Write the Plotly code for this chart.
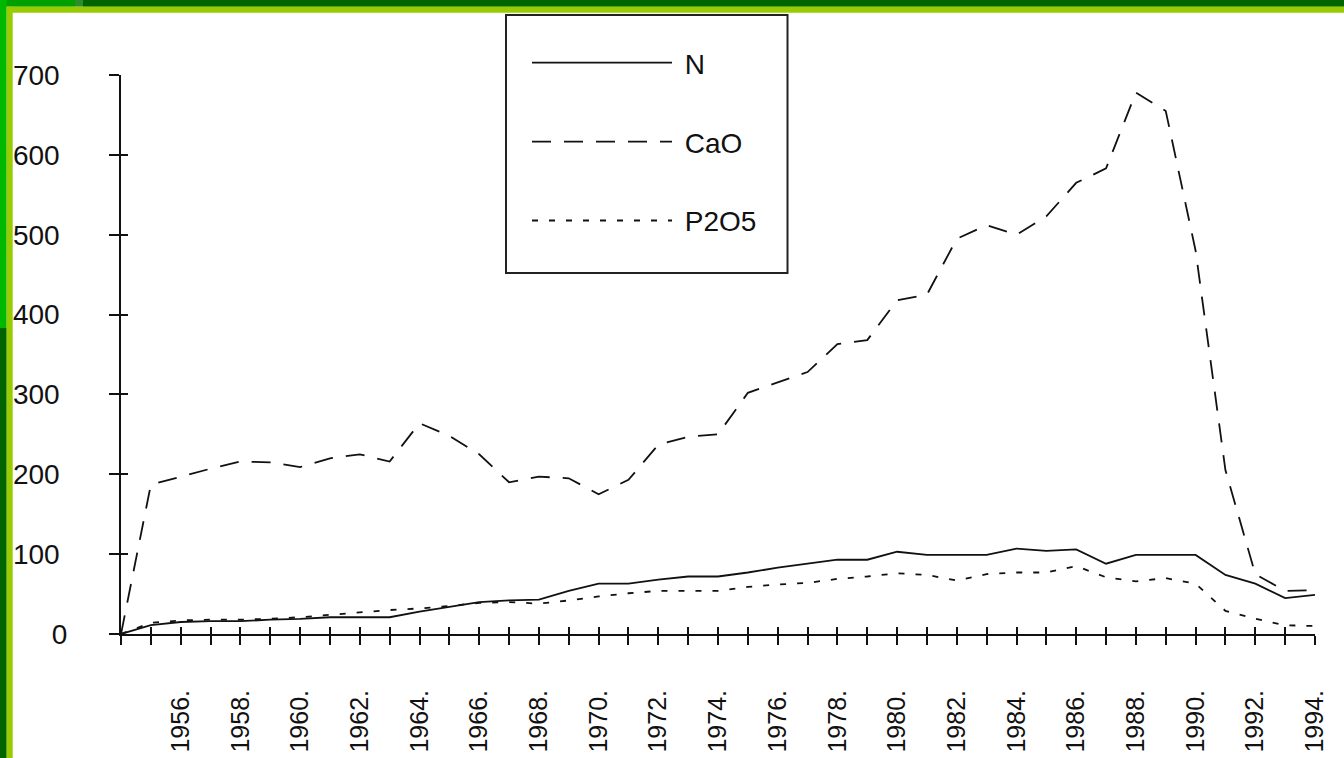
import plotly.graph_objects as go

# ---------------- data ----------------
years = list(range(1954, 1995))

n_values = [0, 11, 15, 16, 16, 18, 19, 21, 21, 21,
            28, 34, 40, 42, 43, 54, 63, 63, 68, 72,
            72, 77, 83, 88, 93, 93, 103, 99, 99, 99,
            107, 104, 106, 88, 99, 99, 99, 74, 63, 45, 49]

cao_values = [0, 187, 197, 207, 216, 215, 209, 220, 225, 216,
              264, 248, 225, 190, 197, 195, 175, 193, 237, 247,
              250, 302, 315, 328, 363, 368, 418, 425, 495, 512,
              500, 523, 565, 583, 678, 655, 480, 205, 75, 54, 55]

p2o5_values = [0, 14, 17, 18, 18, 19, 21, 24, 27, 30,
               32, 35, 39, 40, 38, 42, 47, 51, 54, 54,
               54, 59, 62, 64, 69, 72, 76, 74, 67, 75,
               77, 77, 85, 71, 66, 70, 63, 29, 19, 11, 10]

series_names = ["N", "CaO", "P2O5"]

x_tick_labels = ["", "", "1956.", "", "1958.", "", "1960.", "", "1962.", "",
                 "1964.", "", "1966.", "", "1968.", "", "1970.", "", "1972.", "",
                 "1974.", "", "1976.", "", "1978.", "", "1980.", "", "1982.", "",
                 "1984.", "", "1986.", "", "1988.", "", "1990.", "", "1992.", "",
                 "1994."]

y_tick_vals = [0, 100, 200, 300, 400, 500, 600, 700]
y_tick_labels = ["0", "100\u00a0", "200\u00a0", "300\u00a0", "400\u00a0",
                 "500\u00a0", "600\u00a0", "700\u00a0"]

# ---------------- layout geometry ----------------
W, H = 1344, 758
ML, MR, MT, MB = 121, 29, 75, 124
PW, PH = W - ML - MR, H - MT - MB

FONT = "Liberation Sans, Arial, sans-serif"
INK = "#111111"


def px_x(px):
    return (px - ML) / PW


def px_y(py):
    return (H - MB - py) / PH


fig = go.Figure()

styles = ["solid", "19px,13px", "6px,11px"]
axes_refs = [("x", "y"), ("x", "y"), ("x2", "y2")]
for name, vals, dash, grp, (xa, ya) in zip(series_names,
                                           [n_values, cao_values, p2o5_values],
                                           styles, ["g1", "g2", "g3"], axes_refs):
    fig.add_trace(go.Scatter(
        x=years, y=vals, mode="lines", name="\u00a0" + name, legendgroup=grp,
        xaxis=xa, yaxis=ya,
        line=dict(color=INK, width=1.8, dash=dash),
        hoverinfo="skip",
    ))

axis_common = dict(showgrid=False, zeroline=False)

fig.update_layout(
    width=W, height=H,
    margin=dict(l=ML, r=MR, t=MT, b=MB, pad=0, autoexpand=False),
    paper_bgcolor="white", plot_bgcolor="white",
    font=dict(family=FONT, size=28, color=INK),
    showlegend=True,
    xaxis=dict(
        range=[1954, 1994], tickmode="array", tickvals=years, ticktext=x_tick_labels,
        ticks="outside", ticklen=9, tickwidth=2, tickcolor=INK,
        showline=True, linecolor=INK, linewidth=2,
        tickangle=-90, tickfont=dict(family=FONT, size=25, color=INK),
        ticklabelstandoff=35, **axis_common,
    ),
    xaxis2=dict(
        range=[1954, 1994], overlaying="x", anchor="y", tickmode="array",
        tickvals=years, ticks="inside", ticklen=7, tickwidth=2, tickcolor=INK,
        showticklabels=False, showline=False, **axis_common,
    ),
    yaxis=dict(
        range=[0, 700], tickmode="array", tickvals=y_tick_vals, ticktext=y_tick_labels,
        ticks="outside", ticklen=10, tickwidth=2, tickcolor=INK,
        showline=True, linecolor=INK, linewidth=2,
        tickfont=dict(family=FONT, size=28, color=INK),
        ticklabelstandoff=36, **axis_common,
    ),
    yaxis2=dict(
        range=[0, 700], overlaying="y", anchor="x", side="left", tickmode="array",
        tickvals=y_tick_vals, ticks="inside", ticklen=7, tickwidth=2, tickcolor=INK,
        showticklabels=False, showline=False, **axis_common,
    ),
    legend=dict(
        xref="container", yref="container",
        x=527 / W, y=1 - 38 / H, xanchor="left", yanchor="top",
        font=dict(family=FONT, size=28, color=INK),
        bgcolor="rgba(0,0,0,0)", borderwidth=0,
        itemwidth=140, traceorder="grouped", tracegroupgap=39.5,
    ),
)

# legend frame
shapes = [dict(type="rect", xref="paper", yref="paper",
               x0=px_x(506), x1=px_x(787.5), y0=px_y(273), y1=px_y(15),
               line=dict(color="#222222", width=2), fillcolor="rgba(0,0,0,0)",
               layer="above")]

# slide frame (green bars)
frame = [
    (0, 0, 75, 6.7, "#00A000"),
    (75, 0, 83, 6.7, "#2E8B2E"),
    (83, 0, W, 6.7, "#006400"),
    (0, 0, 6.7, 328, "#00B800"),
    (0, 328, 6.7, H, "#006400"),
    (6.7, 6.7, W, 12.7, "#99CC00"),
    (6.7, 6.7, 12.7, H, "#99CC00"),
]
for x0, y0, x1, y1, col in frame:
    shapes.append(dict(type="rect", xref="paper", yref="paper",
                       x0=px_x(x0), x1=px_x(x1), y0=px_y(y1), y1=px_y(y0),
                       line=dict(width=0), fillcolor=col, layer="above"))

fig.update_layout(shapes=shapes)

fig.write_html("out.html",
               config={"displayModeBar": False},
               post_script="document.body.style.margin='0';"
                           "document.body.style.overflow='hidden';")
